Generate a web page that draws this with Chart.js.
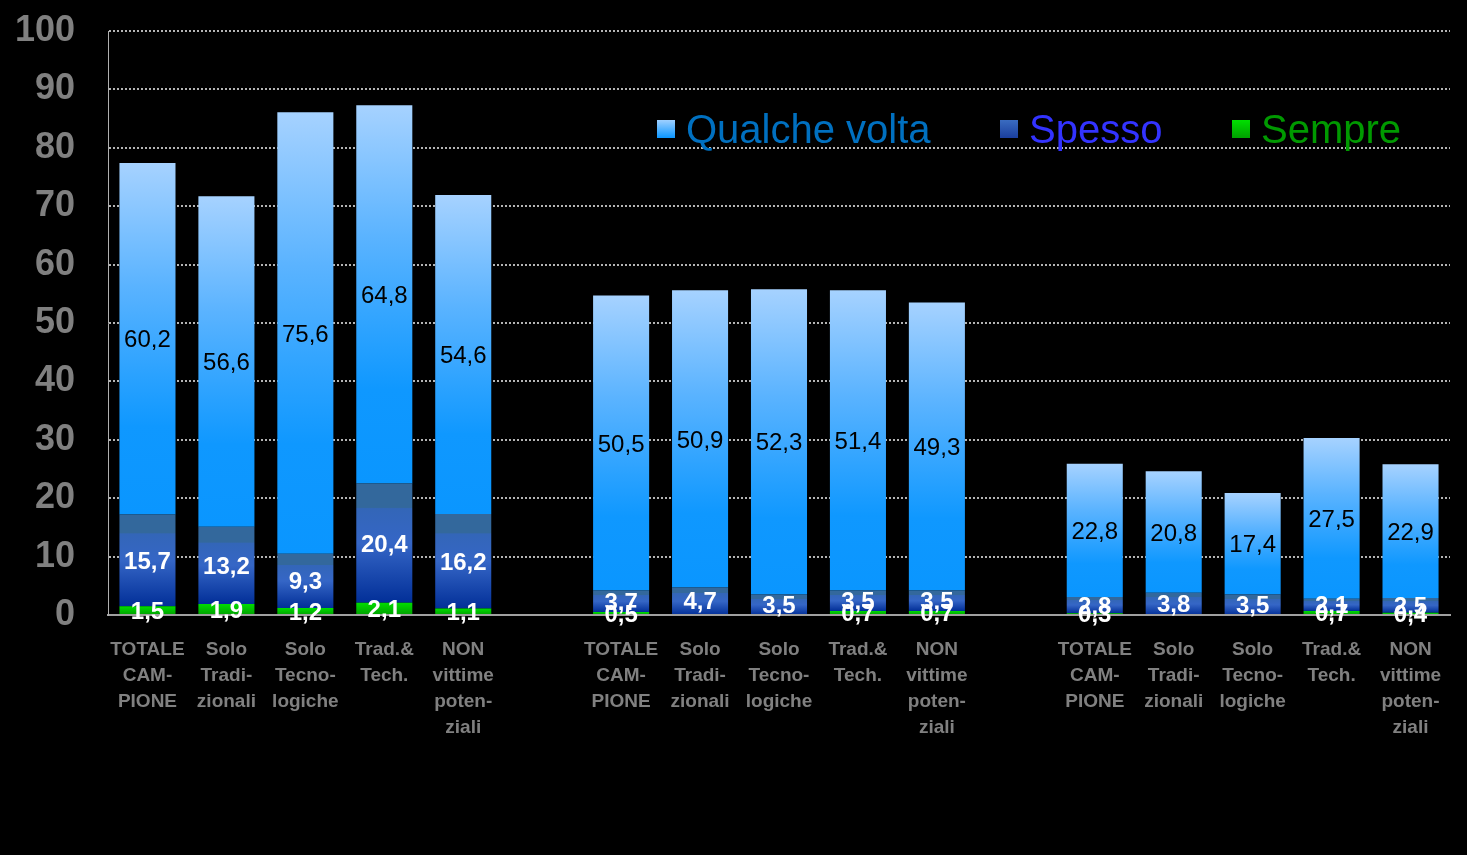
<!DOCTYPE html>
<html>
<head>
<meta charset="utf-8">
<script src="https://cdn.jsdelivr.net/npm/chart.js@4"></script>
<style>
  html, body { margin: 0; padding: 0; background: #000; }
  #wrap { width: 1467px; height: 855px; position: relative; }
</style>
</head>
<body>
<div id="wrap"><canvas id="myChart" width="1467" height="855"></canvas></div>
<script>
// categories (empty slots separate the three groups)
const categories = [
    ['TOTALE', 'CAM-', 'PIONE'], ['Solo', 'Tradi-', 'zionali'], ['Solo', 'Tecno-', 'logiche'], ['Trad.&', 'Tech.'], ['NON', 'vittime', 'poten-', 'ziali'],
    '',
    ['TOTALE', 'CAM-', 'PIONE'], ['Solo', 'Tradi-', 'zionali'], ['Solo', 'Tecno-', 'logiche'], ['Trad.&', 'Tech.'], ['NON', 'vittime', 'poten-', 'ziali'],
    '',
    ['TOTALE', 'CAM-', 'PIONE'], ['Solo', 'Tradi-', 'zionali'], ['Solo', 'Tecno-', 'logiche'], ['Trad.&', 'Tech.'], ['NON', 'vittime', 'poten-', 'ziali']
];

const sempre = [1.5, 1.9, 1.2, 2.1, 1.1, null, 0.5, null, null, 0.7, 0.7, null, 0.3, null, null, 0.7, 0.4];
const spesso = [15.7, 13.2, 9.3, 20.4, 16.2, null, 3.7, 4.7, 3.5, 3.5, 3.5, null, 2.8, 3.8, 3.5, 2.1, 2.5];
const qualcheVolta = [60.2, 56.6, 75.6, 64.8, 54.6, null, 50.5, 50.9, 52.3, 51.4, 49.3, null, 22.8, 20.8, 17.4, 27.5, 22.9];

const yTicks = [0, 10, 20, 30, 40, 50, 60, 70, 80, 90, 100];

const legendItems = [
    { text: 'Qualche volta', color: '#0070c0', stops: ['#9fd0ff', '#0a96ff'] },
    { text: 'Spesso', color: '#3333ff', stops: ['#3a6cc0', '#1a3f9e'] },
    { text: 'Sempre', color: '#009900', stops: ['#00e000', '#00a000'] }
];

const fmt = v => v.toFixed(1).replace('.', ',');

// vertical gradient spanning one segment of a bar
function segmentGradient(context, below, values, stops) {
    const chart = context.chart;
    const y = chart.scales.y;
    if (!y || !chart.chartArea) return stops[stops.length - 1][1];
    const i = context.dataIndex;
    const base = below.reduce((s, arr) => s + (arr[i] || 0), 0);
    const top = base + (values[i] || 0);
    const y0 = y.getPixelForValue(top);
    const y1 = y.getPixelForValue(base);
    if (!isFinite(y0) || !isFinite(y1) || y0 === y1) return stops[stops.length - 1][1];
    const g = chart.ctx.createLinearGradient(0, y0, 0, y1);
    stops.forEach(s => g.addColorStop(s[0], s[1]));
    return g;
}

const qualcheStops = [[0, '#a6d2ff'], [0.35, '#5ab3ff'], [0.75, '#0f98ff'], [1, '#0a96ff']];
const spessoStops = [[0, '#33689c'], [0.2, '#33689c'], [0.21, '#3366b8'], [0.5, '#3566c6'], [1, '#022f98']];
const sempreStops = [[0, '#00dd00'], [1, '#00a000']];

// value labels inside each segment
const valueLabels = {
    id: 'valueLabels',
    afterDatasetsDraw(chart) {
        const ctx = chart.ctx;
        ctx.save();
        ctx.textAlign = 'center';
        ctx.textBaseline = 'middle';
        chart.data.datasets.forEach((ds, di) => {
            const meta = chart.getDatasetMeta(di);
            meta.data.forEach((bar, i) => {
                const v = ds.data[i];
                if (v == null) return;
                const cy = (bar.y + bar.base) / 2;
                if (ds.label === 'Qualche volta') {
                    ctx.font = '24px "Liberation Sans", Arial, sans-serif';
                    ctx.fillStyle = '#000';
                } else {
                    ctx.font = 'bold 24px "Liberation Sans", Arial, sans-serif';
                    ctx.fillStyle = '#fff';
                }
                ctx.fillText(fmt(v), bar.x, cy + 2);
            });
        });
        ctx.restore();
    }
};

// legend drawn inside the plot area
const insideLegend = {
    id: 'insideLegend',
    afterDraw(chart) {
        const ctx = chart.ctx;
        const positions = [657, 1000, 1232];
        ctx.save();
        ctx.font = '40px "Liberation Sans", Arial, sans-serif';
        ctx.textBaseline = 'middle';
        legendItems.forEach((item, k) => {
            const x = positions[k];
            const g = ctx.createLinearGradient(0, 120, 0, 138);
            g.addColorStop(0, item.stops[0]);
            g.addColorStop(1, item.stops[1]);
            ctx.fillStyle = g;
            ctx.fillRect(x, 120, 18, 18);
            ctx.fillStyle = item.color;
            ctx.fillText(item.text, x + 29, 132);
        });
        ctx.restore();
    }
};

const canvas = document.getElementById('myChart');
const ctx = canvas.getContext('2d');

const myChart = new Chart(ctx, {
    type: 'bar',
    data: {
        labels: categories,
        datasets: [
            {
                label: 'Sempre',
                data: sempre,
                backgroundColor: c => segmentGradient(c, [], sempre, sempreStops)
            },
            {
                label: 'Spesso',
                data: spesso,
                backgroundColor: c => segmentGradient(c, [sempre], spesso, spessoStops)
            },
            {
                label: 'Qualche volta',
                data: qualcheVolta,
                backgroundColor: c => segmentGradient(c, [sempre, spesso], qualcheVolta, qualcheStops)
            }
        ]
    },
    options: {
        responsive: false,
        animation: false,
        maintainAspectRatio: false,
        layout: { padding: { top: 31, right: 17, left: 0, bottom: 0 } },
        datasets: {
            bar: { barPercentage: 0.71, categoryPercentage: 1.0, borderWidth: 0 }
        },
        plugins: {
            legend: { display: false },
            tooltip: { enabled: false }
        },
        scales: {
            x: {
                stacked: true,
                afterFit: s => { s.height = 240; },
                grid: { display: false, drawTicks: false },
                border: { display: true, color: '#a0a0a0', width: 2 },
                ticks: {
                    color: '#808080',
                    padding: 22,
                    maxRotation: 0,
                    autoSkip: false,
                    font: { family: '"Liberation Sans", Arial, sans-serif', size: 19, weight: 'bold', lineHeight: 1.37 }
                }
            },
            y: {
                stacked: true,
                min: 0,
                max: 100,
                afterFit: s => { s.width = 108; },
                afterBuildTicks: s => { s.ticks = yTicks.map(v => ({ value: v })); },
                grid: {
                    color: c => c.tick.value === 0 ? 'rgba(0,0,0,0)' : '#b4b4b4',
                    lineWidth: 2,
                    drawTicks: true,
                    tickLength: 33,
                    tickColor: 'rgba(0,0,0,0)'
                },
                border: { display: true, color: '#b0b0b0', width: 1, dash: [2, 2] },
                ticks: {
                    color: '#808080',
                    padding: 0,
                    font: { family: '"Liberation Sans", Arial, sans-serif', size: 36, weight: 'bold' }
                }
            }
        }
    },
    plugins: [valueLabels, insideLegend]
});
</script>
</body>
</html>
